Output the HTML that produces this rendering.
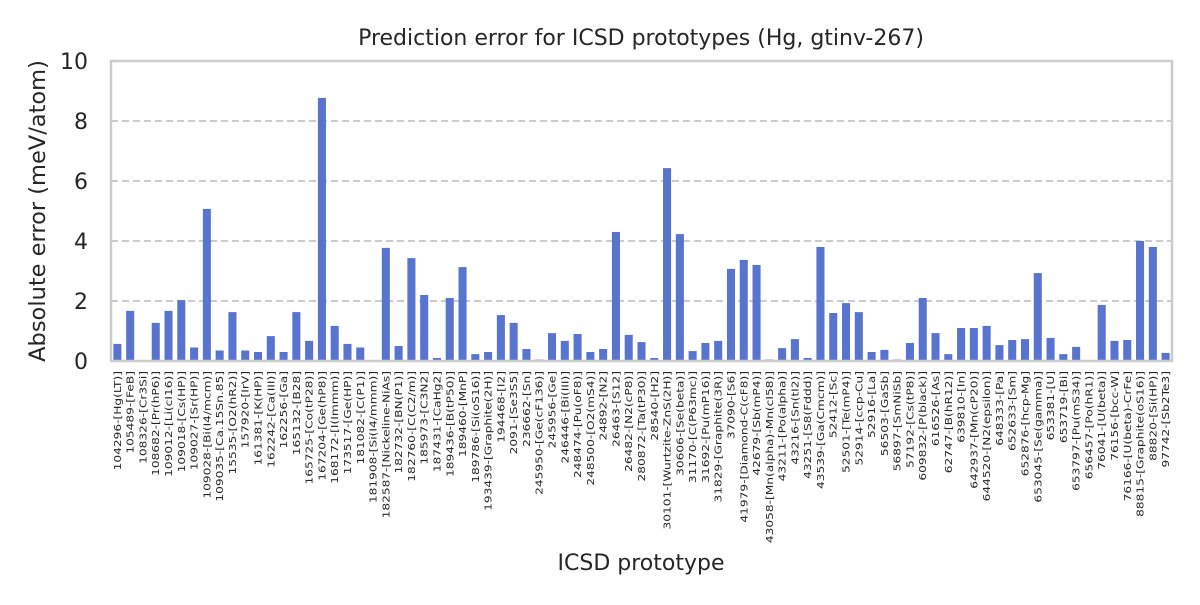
<!DOCTYPE html>
<html><head><meta charset="utf-8"><style>
body{margin:0;background:#fff;}
svg text{font-family:"DejaVu Sans","Liberation Sans",sans-serif;fill:#262626;}
</style></head><body>
<svg id="chart" width="1200" height="600" xmlns="http://www.w3.org/2000/svg">
<rect width="1200" height="600" fill="#fff"/>
<text x="641" y="45" font-size="22" text-anchor="middle">Prediction error for ICSD prototypes (Hg, gtinv-267)</text>
<g id="grid"></g>
<g id="bars"></g>
<rect x="111" y="61" width="1061" height="300" fill="none" stroke="#cccccc" stroke-width="2.5"/>
<g id="yticks"></g>
<g id="xticks"></g>
<text transform="translate(45,211) rotate(-90)" font-size="22.5" text-anchor="middle">Absolute error (meV/atom)</text>
<text x="641" y="570" font-size="22" text-anchor="middle">ICSD prototype</text>
</svg>
<script>
const categories=["104296-[Hg(LT)]","105489-[FeB]","108326-[Cr3Si]","108682-[Pr(hP6)]","109012-[Li(cI16)]","109018-[Cs(HP)]","109027-[Sr(HP)]","109028-[Bi(I4/mcm)]","109035-[Ca.15Sn.85]","15535-[O2(hR2)]","157920-[IrV]","161381-[K(HP)]","162242-[Ca(III)]","162256-[Ga]","165132-[B28]","165725-[Co(tP28)]","167204-[Ge(hP8)]","168172-[I(Immm)]","173517-[Ge(HP)]","181082-[C(P1)]","181908-[Si(I4/mmm)]","182587-[Nickeline-NiAs]","182732-[BN(P1)]","182760-[C(C2/m)]","185973-[C3N2]","187431-[CaHg2]","189436-[B(tP50)]","189460-[MnP]","189786-[Si(oS16)]","193439-[Graphite(2H)]","194468-[I2]","2091-[Se3S5]","236662-[Sn]","245950-[Ge(cF136)]","245956-[Ge]","246446-[Bi(III)]","248474-[Pu(oF8)]","248500-[O2(mS4)]","24892-[N2]","26463-[S12]","26482-[N2(cP8)]","280872-[Ta(tP30)]","28540-[H2]","30101-[Wurtzite-ZnS(2H)]","30606-[Se(beta)]","31170-[C(P63mc)]","31692-[Pu(mP16)]","31829-[Graphite(3R)]","37090-[S6]","41979-[Diamond-C(cF8)]","42679-[Sb(mP4)]","43058-[Mn(alpha)-Mn(cI58)]","43211-[Po(alpha)]","43216-[Sn(tI2)]","43251-[S8(Fddd)]","43539-[Ga(Cmcm)]","52412-[Sc]","52501-[Te(mP4)]","52914-[ccp-Cu]","52916-[La]","56503-[GaSb]","56897-[SmNiSb]","57192-[Cs(tP8)]","609832-[P(black)]","616526-[As]","62747-[B(hR12)]","639810-[In]","642937-[Mn(cP20)]","644520-[N2(epsilon)]","648333-[Pa]","652633-[Sm]","652876-[hcp-Mg]","653045-[Se(gamma)]","653381-[U]","653719-[Bi]","653797-[Pu(mS34)]","656457-[Po(hR1)]","76041-[U(beta)]","76156-[bcc-W]","76166-[U(beta)-CrFe]","88815-[Graphite(oS16)]","88820-[Si(HP)]","97742-[Sb2Te3]"];
const errors=[0.57,1.67,0.0,1.27,1.67,2.03,0.45,5.07,0.35,1.63,0.35,0.3,0.83,0.3,1.63,0.67,8.77,1.17,0.57,0.45,0.0,3.77,0.5,3.43,2.2,0.1,2.1,3.13,0.23,0.3,1.53,1.27,0.4,0.05,0.93,0.67,0.9,0.3,0.4,4.3,0.87,0.63,0.1,6.43,4.23,0.33,0.6,0.67,3.07,3.37,3.2,0.05,0.43,0.73,0.1,3.8,1.6,1.93,1.63,0.3,0.37,0.05,0.6,2.1,0.93,0.23,1.1,1.1,1.17,0.53,0.7,0.73,2.93,0.77,0.23,0.47,0.0,1.87,0.67,0.7,4.0,3.8,0.27];
const yTicks=[0,2,4,6,8,10];
const X0=111,X1=1172,Y0=361,Y1=61,YMAX=10;
const NS="http://www.w3.org/2000/svg";
const bw=(X1-X0)/categories.length;
function xc(i){return X0+(i+0.5)*bw;}
function ys(v){return Y0-(v/YMAX)*(Y0-Y1);}
const grid=document.getElementById('grid'),yt=document.getElementById('yticks'),bars=document.getElementById('bars'),xt=document.getElementById('xticks');
yTicks.forEach(t=>{
  if(t>0&&t<YMAX){
    const l=document.createElementNS(NS,'line');
    
    
    l.setAttribute('x1',X0);l.setAttribute('x2',X1);l.setAttribute('y1',ys(t));l.setAttribute('y2',ys(t));
    l.setAttribute('stroke','#cccccc');l.setAttribute('stroke-width','2');l.setAttribute('stroke-dasharray','7,4');
    grid.appendChild(l);
  }
  const tx=document.createElementNS(NS,'text');
  
  
  tx.setAttribute('x',X0-23);tx.setAttribute('y',ys(t)+8);tx.setAttribute('font-size','22');tx.setAttribute('text-anchor','end');
  tx.textContent=t;yt.appendChild(tx);
});
errors.forEach((v,i)=>{
  const w=bw*0.63;
  const r=document.createElementNS(NS,'rect');
  
  
  r.setAttribute('x',xc(i)-w/2);r.setAttribute('width',w);
  r.setAttribute('y',ys(v));r.setAttribute('height',Math.max(0,Y0-ys(v)));
  r.setAttribute('fill','#5874cf');
  bars.appendChild(r);
});
categories.forEach((c,i)=>{
  const tx=document.createElementNS(NS,'text');
  
  
  const x=xc(i)+3.5,y=371;
  tx.setAttribute('transform','translate('+x+','+y+') rotate(-90) scale(1.27,1)');
  tx.setAttribute('font-size','9.6');tx.setAttribute('text-anchor','end');
  tx.textContent=c;xt.appendChild(tx);
});
</script>
</body></html>
